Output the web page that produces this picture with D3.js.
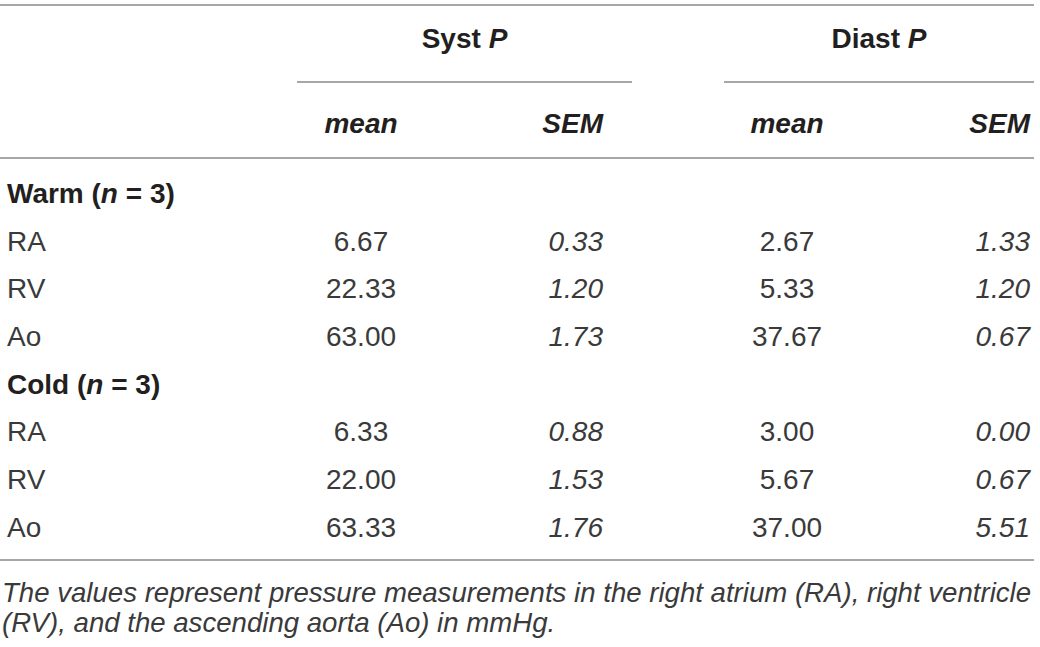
<!DOCTYPE html>
<html>
<head>
<meta charset="utf-8">
<script src="https://cdn.jsdelivr.net/npm/d3@7"></script>
<style>
  html, body { margin: 0; padding: 0; background: #fff; }
  svg { display: block; }
</style>
</head>
<body>
<svg id="table"></svg>
<script>
// table contents
const measures = ["Syst", "Diast"];
const stats = ["mean", "SEM"];
const groups = ["Warm", "Cold"];
const groupN = [3, 3];
const sites = ["RA", "RV", "Ao"];
const warmMean = [[6.67, 2.67], [22.33, 5.33], [63.00, 37.67]];
const warmSem = [[0.33, 1.33], [1.20, 1.20], [1.73, 0.67]];
const coldMean = [[6.33, 3.00], [22.00, 5.67], [63.33, 37.00]];
const coldSem = [[0.88, 0.00], [1.53, 0.67], [1.76, 5.51]];
const captionLines = [
    "The values represent pressure measurements in the right atrium (RA), right ventricle",
    "(RV), and the ascending aorta (Ao) in mmHg."
];

const config = {
    width: 1040, height: 647,
    font: "'Liberation Sans', Arial, Helvetica, sans-serif",
    size: 28,
    ink: "#231f20",   // bold text
    light: "#3a3a3a", // regular text (reference uses a light face)
    rule: "#8a8a8a",
    left: 7, right: 1034
};

const svg = d3.select("#table")
    .attr("width", config.width)
    .attr("height", config.height)
    .style("font-family", config.font)
    .style("font-size", config.size + "px")
    .attr("fill", config.ink);

// row layout: header rows + body rows
const bodyRows = [];
groups.forEach((g, gi) => {
    bodyRows.push({type: "group", key: g, n: groupN[gi]});
    const means = gi === 0 ? warmMean : coldMean;
    const sems = gi === 0 ? warmSem : coldSem;
    sites.forEach((s, si) => bodyRows.push({type: "site", key: g + s, label: s, mean: means[si], sem: sems[si]}));
});

const y = d3.scalePoint()
    .domain(bodyRows.map(d => d.key))
    .range([193, 527]);

// column spans for each measure
const span = d3.scaleOrdinal().domain(measures).range([[297, 632], [724, 1034]]);
// positions of mean (centre) and SEM (right edge) in each measure
const meanX = d3.scaleOrdinal().domain(measures).range([361, 787]);
const semX = d3.scaleOrdinal().domain(measures).range([603, 1030]);

function hline(yPos, x0, x1) {
    svg.append("line")
        .attr("x1", x0).attr("x2", x1)
        .attr("y1", yPos).attr("y2", yPos)
        .attr("stroke", config.rule)
        .attr("stroke-width", 1.5);
}

// rules
hline(5, 0, config.right);
measures.forEach(m => hline(82, span(m)[0], span(m)[1]));
hline(158, 0, config.right);
hline(560, 0, config.right);

// header: measure names
measures.forEach(m => {
    const t = svg.append("text")
        .attr("x", (span(m)[0] + span(m)[1]) / 2)
        .attr("y", 38)
        .attr("dy", "0.35em")
        .attr("text-anchor", "middle")
        .attr("font-weight", "bold");
    t.append("tspan").text(m + " ");
    t.append("tspan").attr("font-style", "italic").text("P");
});

// header: stats
measures.forEach(m => {
    stats.forEach(s => {
        svg.append("text")
            .attr("x", s === "mean" ? meanX(m) : semX(m))
            .attr("y", 123)
            .attr("dy", "0.35em")
            .attr("text-anchor", s === "mean" ? "middle" : "end")
            .attr("font-weight", "bold")
            .attr("font-style", "italic")
            .text(s);
    });
});

// body
bodyRows.forEach(r => {
    if (r.type === "group") {
        const t = svg.append("text")
            .attr("x", config.left)
            .attr("y", y(r.key))
            .attr("dy", "0.35em")
            .attr("font-weight", "bold");
        t.append("tspan").text(r.key + " (");
        t.append("tspan").attr("font-style", "italic").text("n");
        t.append("tspan").text(" = " + r.n + ")");
        return;
    }
    svg.append("text")
        .attr("x", config.left)
        .attr("y", y(r.key))
        .attr("dy", "0.35em")
        .attr("fill", config.light)
        .text(r.label);
    measures.forEach((m, mi) => {
        svg.append("text")
            .attr("x", meanX(m))
            .attr("y", y(r.key))
            .attr("dy", "0.35em")
            .attr("text-anchor", "middle")
            .attr("fill", config.light)
            .text(r.mean[mi].toFixed(2));
        svg.append("text")
            .attr("x", semX(m))
            .attr("y", y(r.key))
            .attr("dy", "0.35em")
            .attr("text-anchor", "end")
            .attr("font-style", "italic")
            .attr("fill", config.light)
            .text(r.sem[mi].toFixed(2));
    });
});

// caption: font size picked so the first line fills the table width
const capX = 2;
const caps = captionLines.map((line, i) => svg.append("text")
    .attr("x", capX)
    .attr("y", 592 + i * 30)
    .attr("dy", "0.35em")
    .attr("font-style", "italic")
    .attr("fill", config.light)
    .text(line));
const fit = (config.right - capX) / caps[0].node().getComputedTextLength();
caps.forEach(t => t.style("font-size", Math.floor(config.size * fit * 10) / 10 + "px"));
</script>
</body>
</html>
